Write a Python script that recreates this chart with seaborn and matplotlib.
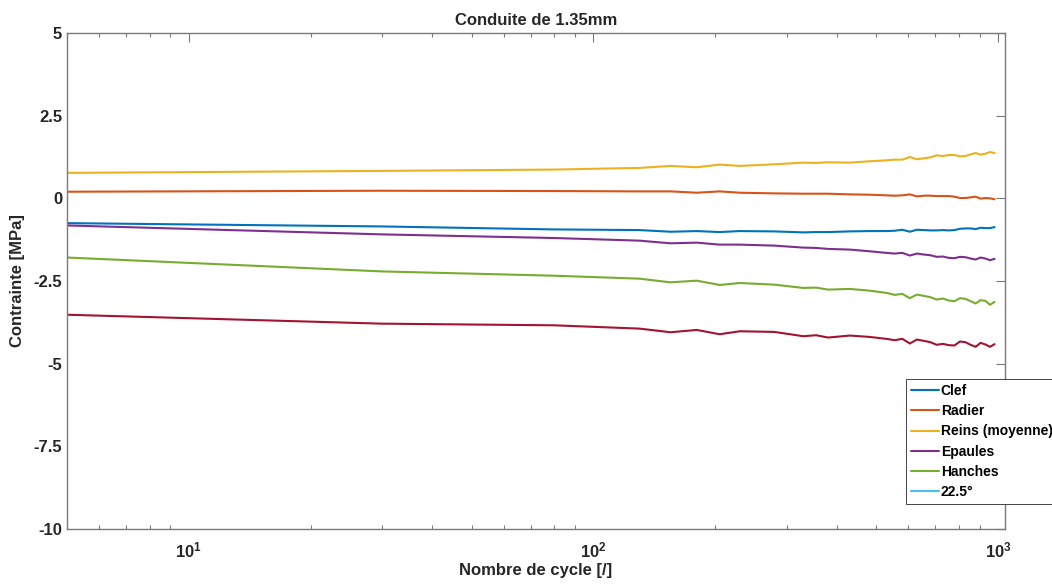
import numpy as np
import pandas as pd
import matplotlib
matplotlib.use('Agg')
import matplotlib.pyplot as plt
from matplotlib.lines import Line2D
from matplotlib.ticker import LogLocator, NullFormatter
import seaborn as sns

# Cycles (log x axis)
cycles = [5, 30, 80, 130, 155, 180, 205, 230, 280, 330, 355, 380, 430, 480, 530, 555,
          580, 605, 630, 655, 680, 705, 730, 755, 780, 805, 830, 855, 880, 905, 930, 955, 980]

clef = [-0.75, -0.85, -0.94, -0.96, -1.01, -0.99, -1.02, -0.99, -1.00, -1.03, -1.02, -1.02,
        -1.00, -0.99, -0.99, -0.98, -0.95, -1.01, -0.95, -0.96, -0.97, -0.97, -0.96, -0.97,
        -0.96, -0.92, -0.91, -0.91, -0.93, -0.89, -0.90, -0.90, -0.87]
radier = [0.20, 0.23, 0.22, 0.21, 0.21, 0.17, 0.21, 0.17, 0.15, 0.14, 0.14, 0.14, 0.12,
          0.11, 0.09, 0.08, 0.09, 0.12, 0.06, 0.08, 0.08, 0.07, 0.07, 0.07, 0.05, 0.01,
          0.01, 0.03, 0.05, -0.01, 0.01, 0.00, -0.03]
reins = [0.77, 0.83, 0.87, 0.92, 0.98, 0.94, 1.02, 0.98, 1.03, 1.08, 1.07, 1.09, 1.08,
         1.12, 1.15, 1.17, 1.17, 1.25, 1.18, 1.21, 1.24, 1.30, 1.28, 1.31, 1.31, 1.27,
         1.28, 1.33, 1.37, 1.32, 1.35, 1.40, 1.37]
epaules = [-0.82, -1.09, -1.20, -1.28, -1.36, -1.34, -1.40, -1.40, -1.43, -1.49, -1.50,
           -1.53, -1.55, -1.60, -1.65, -1.67, -1.65, -1.73, -1.67, -1.70, -1.72, -1.77,
           -1.76, -1.80, -1.81, -1.77, -1.78, -1.82, -1.85, -1.79, -1.82, -1.87, -1.83]
hanches = [-1.79, -2.21, -2.34, -2.43, -2.54, -2.49, -2.62, -2.56, -2.61, -2.71, -2.70,
           -2.76, -2.74, -2.79, -2.86, -2.92, -2.89, -3.02, -2.91, -2.95, -2.99, -3.06,
           -3.03, -3.09, -3.11, -3.02, -3.04, -3.11, -3.18, -3.08, -3.10, -3.22, -3.13]
# 7th curve (dark red), not shown in the legend
autre = [-3.52, -3.79, -3.84, -3.94, -4.05, -3.98, -4.11, -4.02, -4.04, -4.17, -4.14,
         -4.21, -4.15, -4.19, -4.25, -4.29, -4.25, -4.39, -4.27, -4.31, -4.35, -4.43,
         -4.40, -4.44, -4.45, -4.33, -4.35, -4.43, -4.49, -4.37, -4.42, -4.49, -4.41]

series_names = ['Clef', 'Radier', 'Reins (moyenne)', 'Epaules', 'Hanches', '22.5°']
series_colors = ['#0072BD', '#D95319', '#EDB120', '#7E2F8E', '#77AC30', '#4DBEEE']
autre_color = '#A2142F'

y_ticks = [-10, -7.5, -5, -2.5, 0, 2.5, 5]
y_tick_labels = ['-10', '-7.5', '-5', '-2.5', '0', '2.5', '5']
x_ticks = [10, 100, 1000]
x_tick_labels = [r'$10^{1}$', r'$10^{2}$', r'$10^{3}$']

# Long table for seaborn
df = pd.DataFrame({'cycle': cycles, 'Clef': clef, 'Radier': radier,
                   'Reins (moyenne)': reins, 'Epaules': epaules, 'Hanches': hanches})
df_long = df.melt(id_vars='cycle', var_name='serie', value_name='contrainte')

sns.set_style('white')
plt.rcParams['font.family'] = ['Liberation Sans', 'DejaVu Sans']
plt.rcParams['font.weight'] = 'bold'
plt.rcParams['mathtext.fontset'] = 'custom'
plt.rcParams['mathtext.rm'] = 'Liberation Sans:bold'
plt.rcParams['mathtext.it'] = 'Liberation Sans:bold'

text_col = '#262626'
fig = plt.figure(figsize=(10.52, 5.87), dpi=100)
ax = fig.add_axes([67 / 1052, 1 - 529 / 587, (1005 - 67) / 1052, (529 - 33) / 587])

palette = dict(zip(series_names[:5], series_colors[:5]))
sns.lineplot(data=df_long, x='cycle', y='contrainte', hue='serie', palette=palette,
             hue_order=series_names[:5], linewidth=1.5, legend=False, ax=ax)
sns.lineplot(x=cycles, y=autre, color=autre_color, linewidth=1.5, ax=ax)

ax.set_xscale('log')
ax.set_xlim(5, 1040)
ax.set_ylim(-10, 5)
ax.set_xticks(x_ticks)
ax.set_xticklabels(x_tick_labels)
ax.xaxis.set_minor_locator(LogLocator(base=10, subs=np.arange(2, 10)))
ax.xaxis.set_minor_formatter(NullFormatter())
ax.set_yticks(y_ticks)
ax.set_yticklabels(y_tick_labels)

for s in ax.spines.values():
    s.set_color('#7a7a7a')
    s.set_linewidth(1.0)
ax.tick_params(axis='both', which='major', direction='in', length=6.5, width=0.8,
               color='#7a7a7a', top=True, right=True, labelsize=12, labelcolor=text_col)
ax.tick_params(axis='x', which='minor', direction='in', length=3, width=0.8,
               color='#7a7a7a', top=True, bottom=True)
ax.tick_params(axis='x', which='major', pad=8)
for lab in ax.get_yticklabels():
    lab.set_fontweight('bold')

ax.set_title('Conduite de 1.35mm', fontsize=12, fontweight='bold', color=text_col, pad=6)
ax.set_xlabel('Nombre de cycle [/]', fontsize=12, fontweight='bold', color=text_col, labelpad=2)
ax.set_ylabel('Contrainte [MPa]', fontsize=12, fontweight='bold', color=text_col, labelpad=6)

handles = [Line2D([], [], color=c, linewidth=1.5) for c in series_colors]
leg = fig.legend(handles, series_names, loc='upper left',
                 bbox_to_anchor=(906 / 1052, 1 - 379 / 587), fontsize=10,
                 frameon=True, fancybox=False, framealpha=1, edgecolor='#262626',
                 handlelength=2.0, handletextpad=0.15, labelspacing=0.45,
                 borderpad=0.35, borderaxespad=0)
leg.get_frame().set_linewidth(0.6)
for t in leg.get_texts():
    t.set_fontweight('bold')
    t.set_color('#000000')

plt.savefig('out.png', dpi=100)
plt.close()
